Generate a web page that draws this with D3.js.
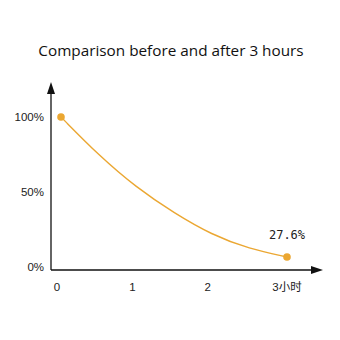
<!DOCTYPE html>
<html>
<head>
<meta charset="utf-8">
<script src="https://cdn.jsdelivr.net/npm/d3@7"></script>
<style>
  html, body { margin: 0; padding: 0; background: #fff; }
  svg { display: block; }
</style>
</head>
<body>
<div class="chart"></div>
<script>
// values (hours -> % remaining)
const hours = [0, 0.5, 1, 1.5, 2, 2.5, 3];
const remaining = [100, 74.5, 53, 36, 21.5, 12, 6.7];
const xTicks = [0, 1, 2, 3];
const xTickLabels = ["0", "1", "2", "3小时"];
const yTicks = [0, 50, 100];
const yTickLabels = ["0%", "50%", "100%"];
const endLabel = "27.6%";
const title = "Comparison before and after 3 hours";

const lineColor = "#eba732";
const width = 340, height = 340;

const svg = d3.select(".chart")
    .append("svg")
    .attr("width", width)
    .attr("height", height);

const scaleX = d3.scaleLinear().domain([0, 3]).range([61, 287]);
const scaleY = d3.scaleLinear().domain([0, 100]).range([267, 117]);

const axisX0 = 51, axisY0 = 270;

// Title
svg.append("text")
    .attr("x", 171)
    .attr("y", 56)
    .attr("text-anchor", "middle")
    .attr("font-family", "'Open Sans', sans-serif")
    .attr("font-size", 15.3)
    .attr("fill", "#111")
    .text(title);

// Axes with arrowheads
svg.append("line")
    .attr("x1", axisX0).attr("x2", axisX0)
    .attr("y1", axisY0).attr("y2", 90)
    .attr("stroke", "#111").attr("stroke-width", 1.3);
svg.append("path")
    .attr("d", `M${axisX0},82 L${axisX0 - 4},94 L${axisX0 + 4},94 Z`)
    .attr("fill", "#111");

svg.append("line")
    .attr("x1", axisX0).attr("x2", 316)
    .attr("y1", axisY0).attr("y2", axisY0)
    .attr("stroke", "#111").attr("stroke-width", 1.3);
svg.append("path")
    .attr("d", `M323,${axisY0} L311,${axisY0 - 4} L311,${axisY0 + 4} Z`)
    .attr("fill", "#111");

// Y tick labels
svg.selectAll(".ylab")
    .data(yTicks)
    .enter().append("text")
    .attr("class", "ylab")
    .attr("x", 44)
    .attr("y", d => scaleY(d))
    .attr("dy", "0.35em")
    .attr("text-anchor", "end")
    .attr("font-family", "'Liberation Sans', Arial, sans-serif")
    .attr("font-size", 11.5)
    .attr("fill", "#222")
    .text((d, i) => yTickLabels[i]);

// X tick labels
svg.selectAll(".xlab")
    .data(xTicks)
    .enter().append("text")
    .attr("class", "xlab")
    .attr("x", d => scaleX(d) - (d === 3 ? 0 : 4))
    .attr("y", 287)
    .attr("dy", "0.35em")
    .attr("text-anchor", "middle")
    .attr("font-family", "'Liberation Sans', Arial, 'Noto Sans CJK SC', sans-serif")
    .attr("font-size", 11.5)
    .attr("fill", "#222")
    .text((d, i) => xTickLabels[i]);

// Curve
const lineFunc = d3.line()
    .x((d, i) => scaleX(hours[i]))
    .y(d => scaleY(d))
    .curve(d3.curveBasis);

svg.append("path")
    .attr("d", lineFunc(remaining))
    .attr("fill", "none")
    .attr("stroke", lineColor)
    .attr("stroke-width", 1.4);

// End points
const ends = [0, remaining.length - 1];
svg.selectAll(".dot")
    .data(ends)
    .enter().append("circle")
    .attr("class", "dot")
    .attr("cx", i => scaleX(hours[i]))
    .attr("cy", i => scaleY(remaining[i]))
    .attr("r", 3.8)
    .attr("fill", lineColor);

// End value label
svg.append("text")
    .attr("x", scaleX(hours[hours.length - 1]))
    .attr("y", scaleY(remaining[remaining.length - 1]) - 18)
    .attr("text-anchor", "middle")
    .attr("font-family", "'DejaVu Sans Mono', monospace")
    .attr("font-size", 12)
    .attr("fill", "#222")
    .text(endLabel);
</script>
</body>
</html>
